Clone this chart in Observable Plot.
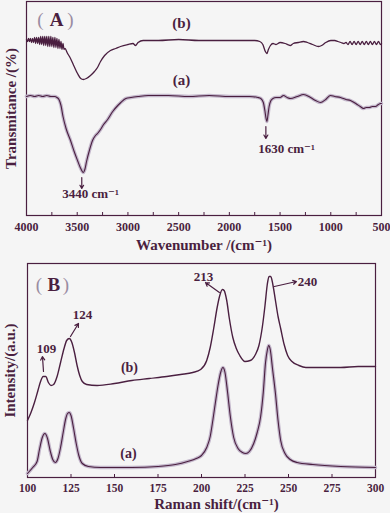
<!DOCTYPE html>
<html><head><meta charset="utf-8">
<script src="https://cdn.jsdelivr.net/npm/d3@7"></script>
<script src="https://cdn.jsdelivr.net/npm/@observablehq/plot@0.6"></script>
<style>
html,body{margin:0;padding:0;background:#f5f5f5;}
#chart{width:390px;height:513px;overflow:hidden;}
#chart svg{display:block;}
</style>
</head><body><div id="chart"></div>
<script>
// ---------- Panel A: FTIR (wavenumber, transmittance in arbitrary units) ----------
const ftirTicks = [4000, 3500, 3000, 2500, 2000, 1500, 1000, 500];
const ftirMinorTicks = [3750, 3250, 2750, 2250, 1750, 1250, 750];
const ftirCurveB = [
  [4000,176],[3990,174],[3980,177],[3970,174],[3960,177],[3950,173],[3940,177],[3930,173],
  [3920,178],[3910,172],[3900,178],[3890,172],[3880,178],[3870,171],[3860,179],[3850,171],
  [3840,179],[3830,170],[3820,179],[3810,170],[3800,179],[3790,169],[3780,179],[3770,169],
  [3760,179],[3750,169],[3740,178],[3730,168],[3720,178],[3710,168],[3700,177],[3690,167],
  [3680,176],[3670,167],[3660,174],[3650,166],[3640,172],[3630,166],[3620,167],[3600,163],
  [3566,157],[3530,149],[3497,142],[3465,137],[3440,136],[3410,137],[3369,140],[3330,144],
  [3300,148],[3270,154],[3230,160],[3172,165],[3120,167],[3073,169],[3000,171],[2950,172],
  [2925,170],[2900,173],[2850,175],[2700,175],[2500,176],[2300,175],[2100,175],[1900,175],
  [1750,175],[1700,174],[1670,171],[1645,164],[1630,162],[1615,166],[1595,170],[1570,172],
  [1540,171],[1500,173],[1450,172],[1400,170],[1370,172],[1320,173],[1270,174],[1230,173],
  [1180,171],[1120,169],[1090,170],[1050,173],[1000,175],[960,175],[930,174],[900,173],
  [870,172],[850,173],[830,171],[810,174],[790,171],[770,174],[750,171],[730,174],
  [710,171],[690,174],[670,171],[650,174],[630,171],[610,174],[590,171],[570,174],
  [550,171],[530,174],[510,171],[500,172]
];
const ftirCurveA = [
  [4000,119],[3960,120],[3920,119],[3880,120],[3840,119],[3800,120],[3760,119],[3720,119],
  [3700,118],[3680,116],[3660,110],[3640,99],[3610,87],[3566,75],[3530,64],[3497,55],
  [3470,48],[3450,44],[3440,43],[3425,46],[3408,54],[3380,65],[3349,75],[3320,80],
  [3300,82],[3270,86],[3240,91],[3200,96],[3150,104],[3100,110],[3070,113],[3020,117],
  [2970,118],[2900,119],[2800,120],[2600,120],[2400,119],[2200,120],[2000,119],[1800,119],
  [1720,118],[1690,117],[1665,113],[1650,105],[1638,97],[1630,94],[1620,100],[1608,109],
  [1590,115],[1570,117],[1540,118],[1500,118],[1466,120],[1430,118],[1397,117],[1330,119],
  [1269,121],[1200,118],[1150,115],[1101,113],[1050,116],[1003,120],[960,119],[904,118],
  [850,116],[806,115],[770,113],[740,111],[710,109],[678,107],[650,108],[620,108],
  [590,109],[560,109],[530,111],[510,112],[500,112]
];
const ftirArrows = [
  {x1: 3455, y1: 38, x2: 3455, y2: 27},
  {x1: 1640, y1: 89, x2: 1640, y2: 77}
];
const ftirPeakLabels = [
  {x: 3369, y: 22, text: "3440 cm⁻¹"},
  {x: 1437, y: 67, text: "1630 cm⁻¹"}
];
const ftirSeriesLabels = [
  {x: 2472, y: 192, text: "(b)"},
  {x: 2472, y: 135, text: "(a)"}
];
const ftirPanel = {x: 3704, y: 196, letter: "A"};

// ---------- Panel B: Raman (shift, intensity in arbitrary units) ----------
const ramanTicks = [100, 125, 150, 175, 200, 225, 250, 275, 300];
const ramanCurveB = [
  [100,57],[102,65],[104,75],[106,87],[107.5,96],[109,101],[110.5,101],[112,95],
  [113.5,92],[115,93],[117,101],[119,115],[121,129],[122.5,137],[124,139],[125.5,135],
  [127,125],[128.5,112],[130,102],[131.5,96],[134,93],[140,92],[150,94],[160,97],
  [170,99],[180,101],[188,103],[195,105],[199.5,108],[203,117],[205,130],[207,149],
  [209,170],[210.5,182],[212,188],[213,187],[214.5,177],[216,159],[218,140],[220,129],
  [222,122],[225,116],[228,117],[231,123],[233,132],[235,151],[236.5,172],[237.8,193],
  [238.8,201],[239.8,201],[241,193],[242.5,177],[244,161],[245.5,149],[247.5,133],[249.5,122],
  [252,116],[256,112],[260,110],[270,110],[280,110],[290,111],[300,111]
];
const ramanCurveA = [
  [100,4],[103,10],[105.5,16],[107,29],[108.5,40],[110,44],[111.5,39],[113,27],
  [114.5,18],[116,15],[117.5,19],[119,30],[120.5,45],[122,59],[123,64],[124,65],
  [125,62],[126.5,49],[128,34],[129.5,22],[131.5,14],[135,11],[142,10],[160,10],
  [175,11],[185,13],[192,16],[197,19],[200,22],[203,30],[205,41],[206.5,57],
  [208,75],[209.5,92],[211,105],[212.3,110],[213.5,105],[215,85],[216.5,62],[218.5,40],
  [221,29],[223.5,25],[225.5,24],[227.5,26],[230,34],[232,45],[234,61],[235.5,85],
  [236.8,115],[237.8,127],[238.6,132],[239.5,128],[240.8,109],[242.5,84],[244,57],[245.5,37],
  [248,24],[251,18],[255,15],[264,13],[280,11],[300,10]
];
const ramanArrows = [
  {x1: 109.2, y1: 106, x2: 108.6, y2: 121},
  {x1: 124.7, y1: 141, x2: 129.3, y2: 154},
  {x1: 210.3, y1: 185, x2: 202.3, y2: 195},
  {x1: 241.9, y1: 191, x2: 254.6, y2: 196}
];
const ramanPeakLabels = [
  {x: 110.9, y: 129, text: "109"},
  {x: 131.6, y: 163, text: "124"},
  {x: 201.1, y: 201, text: "213"},
  {x: 260.9, y: 196, text: "240"}
];
const ramanSeriesLabels = [
  {x: 158.6, y: 110, text: "(b)"},
  {x: 158.0, y: 24, text: "(a)"}
];
const ramanPanel = {x: 115.2, y: 193, letter: "B"};

// ---------- drawing ----------
const ink = "#4a1f40";
const halo = "#c3b7cb";
const parenInk = "#9a8ca2";
const serif = "'Liberation Serif','DejaVu Serif',serif";
const pts = arr => arr.map(([x, y]) => ({x, y}));

function panelMarks(p, dxL, dxR) {
  return [
    Plot.text([p], {x: "x", y: "y", text: () => "(", dx: dxL, fontSize: 19, fontWeight: "normal", fill: parenInk}),
    Plot.text([p], {x: "x", y: "y", text: "letter", fontSize: 19, fontWeight: "bold", fill: ink}),
    Plot.text([p], {x: "x", y: "y", text: () => ")", dx: dxR, fontSize: 19, fontWeight: "normal", fill: parenInk})
  ];
}

const plotA = Plot.plot({
  width: 390, height: 256,
  marginLeft: 26, marginRight: 9, marginTop: 1, marginBottom: 41,
  x: {domain: [4000, 500], axis: null},
  y: {domain: [0, 214], axis: null},
  style: {background: "transparent", fontFamily: serif, fontWeight: "bold", color: ink, overflow: "visible"},
  marks: [
    Plot.frame({stroke: ink, strokeWidth: 1.2}),
    Plot.axisX({ticks: ftirMinorTicks, tickSize: -3, tickFormat: () => "", label: null, stroke: ink}),
    Plot.axisX({ticks: ftirTicks, tickSize: -3, tickPadding: 10, fontSize: 12, label: null, tickFormat: d => String(d), stroke: ink}),
    Plot.line(pts(ftirCurveA), {x: "x", y: "y", stroke: halo, strokeWidth: 3.5, curve: "monotone-x"}),
    Plot.line(pts(ftirCurveA), {x: "x", y: "y", stroke: ink, strokeWidth: 1.1, curve: "monotone-x"}),
    Plot.line(pts(ftirCurveB), {x: "x", y: "y", stroke: ink, strokeWidth: 1.3, curve: "monotone-x"}),
    Plot.arrow(ftirArrows, {x1: "x1", y1: "y1", x2: "x2", y2: "y2", stroke: ink, strokeWidth: 1.2, headLength: 5}),
    Plot.text(ftirPeakLabels, {x: "x", y: "y", text: "text", fontSize: 13, fill: ink}),
    Plot.text(ftirSeriesLabels, {x: "x", y: "y", text: "text", fontSize: 15, fill: ink}),
    ...panelMarks(ftirPanel, -16, 14),
    Plot.text(["Wavenumber /(cm⁻¹)"], {frameAnchor: "bottom", dy: 34, fontSize: 15, fill: ink}),
    Plot.text(["Transmitance /(%)"], {frameAnchor: "left", textAnchor: "middle", dx: -15, rotate: -90, fontSize: 15, fill: ink})
  ]
});

const plotB = Plot.plot({
  width: 390, height: 257,
  marginLeft: 27, marginRight: 15, marginTop: 7, marginBottom: 36,
  x: {domain: [100, 300], axis: null},
  y: {domain: [0, 214], axis: null},
  style: {background: "transparent", fontFamily: serif, fontWeight: "bold", color: ink, overflow: "visible"},
  marks: [
    Plot.frame({stroke: ink, strokeWidth: 1.2}),
    Plot.axisX({ticks: ramanTicks, tickSize: -3, tickPadding: 9, fontSize: 11.5, label: null, tickFormat: d => String(d), stroke: ink}),
    Plot.line(pts(ramanCurveA), {x: "x", y: "y", stroke: halo, strokeWidth: 3.5, curve: "monotone-x"}),
    Plot.line(pts(ramanCurveA), {x: "x", y: "y", stroke: ink, strokeWidth: 1.1, curve: "monotone-x"}),
    Plot.line(pts(ramanCurveB), {x: "x", y: "y", stroke: ink, strokeWidth: 1.4, curve: "monotone-x"}),
    Plot.arrow(ramanArrows, {x1: "x1", y1: "y1", x2: "x2", y2: "y2", stroke: ink, strokeWidth: 1.2, headLength: 5}),
    Plot.text(ramanPeakLabels, {x: "x", y: "y", text: "text", fontSize: 13, fill: ink}),
    Plot.text(ramanSeriesLabels, {x: "x", y: "y", text: "text", fontSize: 14, fill: ink}),
    ...panelMarks(ramanPanel, -15, 12),
    Plot.text(["Raman shift/(cm⁻¹)"], {frameAnchor: "bottom", dx: 15, dy: 31, fontSize: 15, fill: ink}),
    Plot.text(["Intensity/(a.u.)"], {frameAnchor: "left", textAnchor: "middle", dx: -17, rotate: -90, fontSize: 15, fill: ink})
  ]
});

const root = document.getElementById("chart");
root.appendChild(plotA);
root.appendChild(plotB);
</script></body></html>
